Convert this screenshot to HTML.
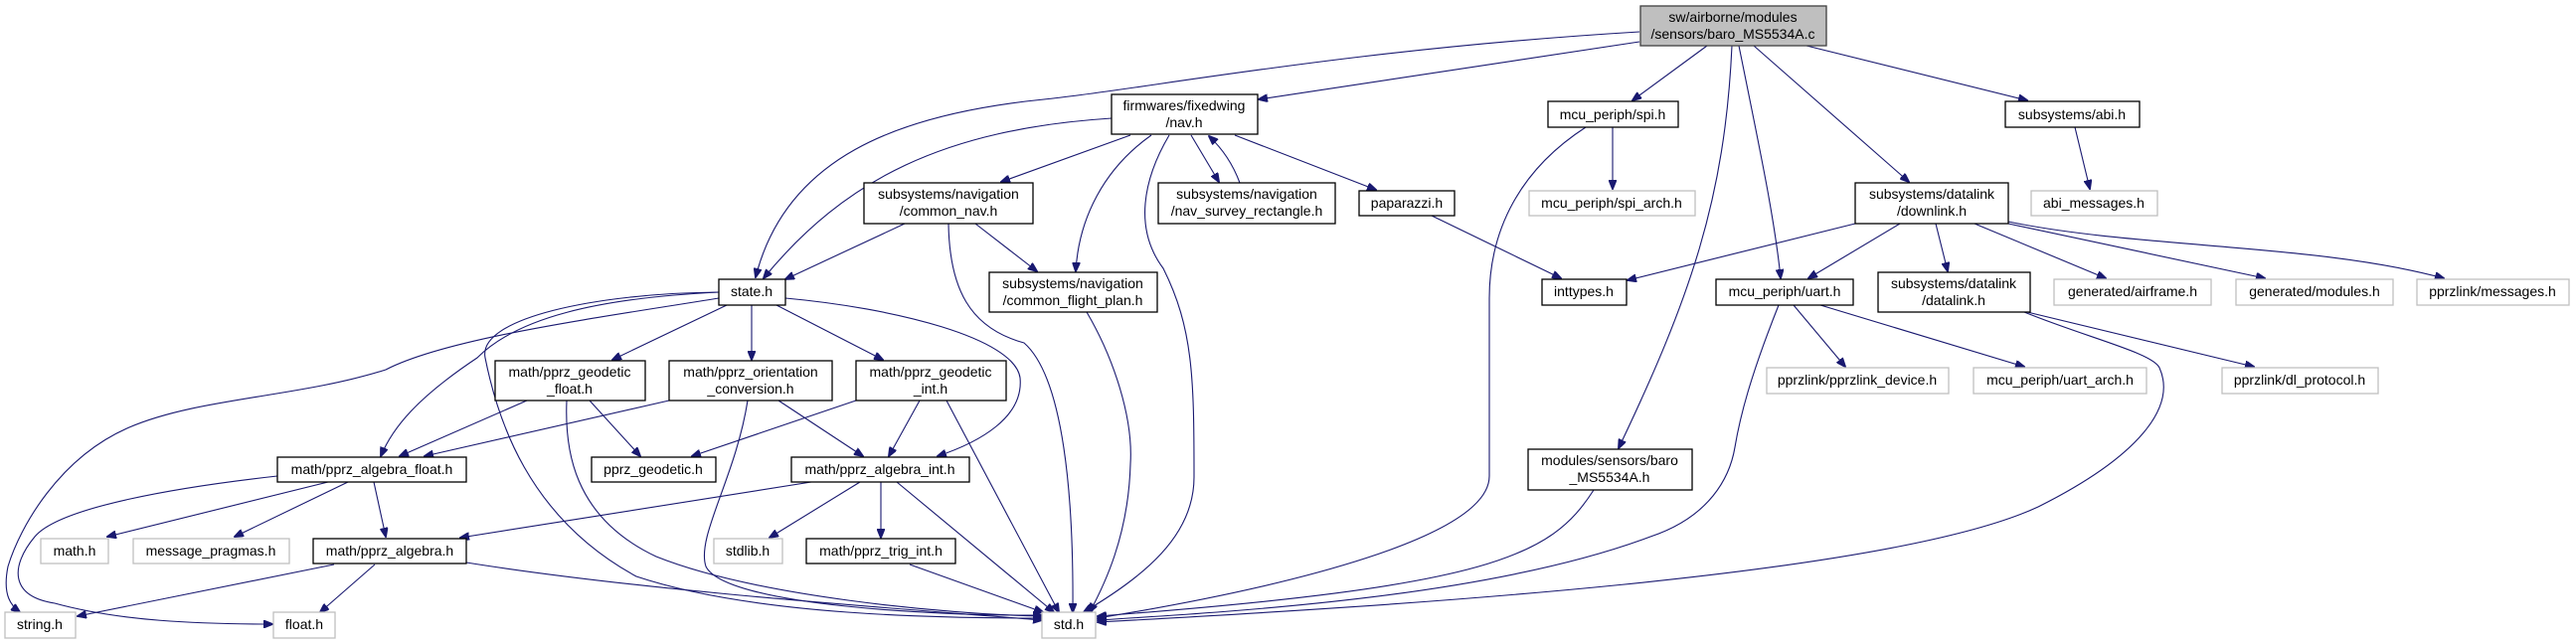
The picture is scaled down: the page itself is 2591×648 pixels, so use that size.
<!DOCTYPE html>
<html><head><meta charset="utf-8"><style>
html,body{margin:0;padding:0;background:#fff;}
svg{display:block;}
text{font-family:"Liberation Sans",sans-serif;font-size:14px;fill:#000;text-anchor:middle;}
.n{fill:#fff;stroke:#000;stroke-width:1.3;}
.g{fill:#fff;stroke:#bfbfbf;stroke-width:1.3;}
.r{fill:#bfbfbf;stroke:#404040;stroke-width:1.3;}
path{fill:none;stroke:#191970;stroke-width:1.1;marker-end:url(#a);}
</style></head><body>
<svg width="2591" height="648" viewBox="0 0 2591 648" xmlns="http://www.w3.org/2000/svg">
<defs><marker id="a" markerWidth="10" markerHeight="8" refX="9" refY="4" orient="auto" markerUnits="userSpaceOnUse"><path d="M0,0 L10,4 L0,8 Z" style="fill:#191970;stroke:#191970;marker-end:none"/></marker></defs>
<path d="M1649,32 C1350,50 1150,90 1050,100 C900,115 790,160 760,279"/>
<path d="M1649,42 L1266,100"/>
<path d="M1717,46 L1642,101"/>
<path d="M1817,46 L2039,101"/>
<path d="M1764,46 L1920,183"/>
<path d="M1749,46 C1770,150 1785,220 1791,280"/>
<path d="M1742,46 C1735,200 1700,300 1628,451"/>
<path d="M1118,119 C950,130 850,180 768,280"/>
<path d="M1137,136 L1007,183"/>
<path d="M1158,136 C1110,170 1085,220 1082,273"/>
<path d="M1176,136 C1150,180 1140,230 1170,270 C1200,330 1201,380 1201,480 C1201,540 1150,580 1090,616"/>
<path d="M1198,136 L1226,183"/>
<path d="M1247,184 C1240,165 1230,150 1216,137"/>
<path d="M1242,136 L1384,191"/>
<path d="M910,225 L790,281"/>
<path d="M981,225 L1043,273"/>
<path d="M954,225 C955,290 975,330 1030,345 C1070,380 1080,500 1079,616"/>
<path d="M1440,217 L1570,280"/>
<path d="M1622,128 L1622,190"/>
<path d="M2087,128 L2102,190"/>
<path d="M1093,314 C1120,360 1140,420 1137,467 C1135,540 1110,590 1096,616"/>
<path d="M1595,128 C1530,170 1498,230 1498,300 L1498,479 C1498,540 1300,590 1104,622"/>
<path d="M1866,225 L1637,282"/>
<path d="M1911,225 L1819,280"/>
<path d="M1947,225 L1959,273"/>
<path d="M1986,225 L2118,280"/>
<path d="M2020,225 L2278,280"/>
<path d="M2020,223 C2150,250 2330,245 2458,280"/>
<path d="M1804,307 L1856,369"/>
<path d="M1831,307 L2036,369"/>
<path d="M1789,307 C1760,380 1750,420 1745,450 C1740,480 1720,520 1660,540 C1500,600 1250,615 1104,624"/>
<path d="M2039,314 L2267,369"/>
<path d="M2036,314 C2100,340 2165,355 2172,370 C2190,410 2150,460 2050,510 C1900,580 1400,610 1104,626"/>
<path d="M723,300 C600,320 450,340 388,372 C300,400 200,400 130,430 C60,460 20,530 8,570 C2,600 12,610 20,616"/>
<path d="M723,294 C600,300 520,320 480,360 C420,400 395,430 383,459"/>
<path d="M723,294 C600,295 480,320 488,360 C500,420 530,520 640,580 C760,620 950,622 1048,622"/>
<path d="M731,307 L616,362"/>
<path d="M756,307 L756,362"/>
<path d="M781,307 L888,362"/>
<path d="M790,300 C900,310 1020,340 1026,380 C1030,420 985,445 943,459"/>
<path d="M530,403 L402,459"/>
<path d="M593,403 L644,459"/>
<path d="M570,403 C568,450 575,520 660,560 C760,600 950,618 1048,620"/>
<path d="M673,403 L427,459"/>
<path d="M783,403 L868,459"/>
<path d="M752,403 C740,480 700,540 710,570 C730,610 950,620 1048,619"/>
<path d="M861,403 L696,459"/>
<path d="M925,403 L894,459"/>
<path d="M952,403 L1065,616"/>
<path d="M330,485 L108,540"/>
<path d="M350,485 L236,540"/>
<path d="M376,485 L388,540"/>
<path d="M279,479 C180,490 60,510 35,540 C10,570 10,600 55,607 C120,625 200,628 274,628"/>
<path d="M336,568 L78,620"/>
<path d="M377,568 L322,616"/>
<path d="M469,566 C650,595 900,612 1048,624"/>
<path d="M816,485 L463,541"/>
<path d="M865,485 L774,541"/>
<path d="M886,485 L886,541"/>
<path d="M902,485 L1060,616"/>
<path d="M915,568 L1049,616"/>
<path d="M1603,493 C1560,560 1500,590 1104,620"/>
<rect class="r" x="1650" y="6" width="187" height="40"/><text x="1743" y="22">sw/airborne/modules</text><text x="1743" y="39">/sensors/baro_MS5534A.c</text>
<rect class="n" x="1118" y="95" width="147" height="40"/><text x="1191" y="111">firmwares/fixedwing</text><text x="1191" y="128">/nav.h</text>
<rect class="n" x="1557" y="102" width="131" height="26"/><text x="1622" y="120">mcu_periph/spi.h</text>
<rect class="n" x="2017" y="102" width="135" height="26"/><text x="2084" y="120">subsystems/abi.h</text>
<rect class="n" x="869" y="184" width="170" height="41"/><text x="954" y="200">subsystems/navigation</text><text x="954" y="217">/common_nav.h</text>
<rect class="n" x="1165" y="184" width="178" height="41"/><text x="1254" y="200">subsystems/navigation</text><text x="1254" y="217">/nav_survey_rectangle.h</text>
<rect class="n" x="1367" y="192" width="96" height="25"/><text x="1415" y="209">paparazzi.h</text>
<rect class="g" x="1538" y="192" width="167" height="25"/><text x="1621" y="209">mcu_periph/spi_arch.h</text>
<rect class="n" x="1866" y="184" width="154" height="41"/><text x="1943" y="200">subsystems/datalink</text><text x="1943" y="217">/downlink.h</text>
<rect class="g" x="2043" y="192" width="127" height="25"/><text x="2106" y="209">abi_messages.h</text>
<rect class="n" x="723" y="281" width="67" height="26"/><text x="756" y="298">state.h</text>
<rect class="n" x="995" y="274" width="169" height="40"/><text x="1079" y="290">subsystems/navigation</text><text x="1079" y="307">/common_flight_plan.h</text>
<rect class="n" x="1551" y="281" width="85" height="26"/><text x="1593" y="298">inttypes.h</text>
<rect class="n" x="1726" y="281" width="138" height="26"/><text x="1795" y="298">mcu_periph/uart.h</text>
<rect class="n" x="1889" y="274" width="153" height="40"/><text x="1965" y="290">subsystems/datalink</text><text x="1965" y="307">/datalink.h</text>
<rect class="g" x="2066" y="281" width="158" height="26"/><text x="2145" y="298">generated/airframe.h</text>
<rect class="g" x="2249" y="281" width="158" height="26"/><text x="2328" y="298">generated/modules.h</text>
<rect class="g" x="2431" y="281" width="153" height="26"/><text x="2507" y="298">pprzlink/messages.h</text>
<rect class="n" x="498" y="363" width="151" height="40"/><text x="573" y="379">math/pprz_geodetic</text><text x="573" y="396">_float.h</text>
<rect class="n" x="673" y="363" width="164" height="40"/><text x="755" y="379">math/pprz_orientation</text><text x="755" y="396">_conversion.h</text>
<rect class="n" x="861" y="363" width="151" height="40"/><text x="936" y="379">math/pprz_geodetic</text><text x="936" y="396">_int.h</text>
<rect class="g" x="1777" y="370" width="183" height="26"/><text x="1868" y="387">pprzlink/pprzlink_device.h</text>
<rect class="g" x="1985" y="370" width="174" height="26"/><text x="2072" y="387">mcu_periph/uart_arch.h</text>
<rect class="g" x="2235" y="370" width="157" height="26"/><text x="2313" y="387">pprzlink/dl_protocol.h</text>
<rect class="n" x="279" y="460" width="190" height="25"/><text x="374" y="477">math/pprz_algebra_float.h</text>
<rect class="n" x="595" y="460" width="125" height="25"/><text x="657" y="477">pprz_geodetic.h</text>
<rect class="n" x="796" y="460" width="179" height="25"/><text x="885" y="477">math/pprz_algebra_int.h</text>
<rect class="n" x="1537" y="452" width="165" height="41"/><text x="1619" y="468">modules/sensors/baro</text><text x="1619" y="485">_MS5534A.h</text>
<rect class="g" x="41" y="542" width="68" height="25"/><text x="75" y="559">math.h</text>
<rect class="g" x="134" y="542" width="157" height="25"/><text x="212" y="559">message_pragmas.h</text>
<rect class="n" x="315" y="542" width="154" height="25"/><text x="392" y="559">math/pprz_algebra.h</text>
<rect class="g" x="718" y="542" width="69" height="25"/><text x="752" y="559">stdlib.h</text>
<rect class="n" x="811" y="542" width="150" height="25"/><text x="886" y="559">math/pprz_trig_int.h</text>
<rect class="g" x="5" y="616" width="71" height="26"/><text x="40" y="633">string.h</text>
<rect class="g" x="275" y="616" width="62" height="26"/><text x="306" y="633">float.h</text>
<rect class="g" x="1048" y="616" width="54" height="26"/><text x="1075" y="633">std.h</text>
</svg>
</body></html>
